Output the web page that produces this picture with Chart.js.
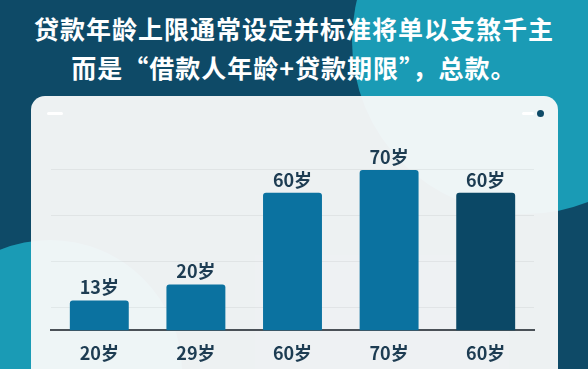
<!DOCTYPE html>
<html>
<head>
<meta charset="utf-8">
<script src="https://cdn.jsdelivr.net/npm/chart.js@4.4.0/dist/chart.umd.min.js"></script>
<style>
  html, body { margin: 0; padding: 0; }
  body {
    width: 588px; height: 369px; overflow: hidden; position: relative;
    background: #0e4a67;
    font-family: "Noto Sans CJK SC", "Noto Sans", sans-serif;
  }
  .circle { position: absolute; border-radius: 50%; background: #1a9bb5; }
  #circleTop { left: 352px; top: -132px; width: 346px; height: 346px; }
  #circleBottom { left: -82px; top: 240px; width: 264px; height: 264px; }
  .title {
    position: absolute; left: 0; width: 588px; text-align: center;
    color: #ffffff; font-size: 25px; font-weight: 700; letter-spacing: 1px;
    line-height: 30px; white-space: nowrap;
  }
  #title1 { top: 13px; }
  #title2 { top: 52px; }
  #card {
    position: absolute; left: 31px; top: 96px; width: 527px; height: 320px;
    border-radius: 14px; background: rgba(250, 250, 250, 0.95);
  }
  .dash { position: absolute; height: 3px; border-radius: 2px; background: #ffffff; }
  #dashLeft { left: 47px; top: 112px; width: 16px; }
  #dashRight { left: 522px; top: 112px; width: 12px; }
  #dot { position: absolute; left: 537px; top: 110px; width: 7px; height: 7px; border-radius: 50%; background: #0e4a67; }
  #chartBox { position: absolute; left: 0; top: 13px; width: 588px; height: 369px; }
</style>
</head>
<body>
<div class="circle" id="circleTop"></div>
<div class="circle" id="circleBottom"></div>
<div class="title" id="title1">贷款年龄上限通常设定并标准将单以支煞千主</div>
<div class="title" id="title2">而是“借款人年龄+贷款期限”，总款。</div>
<div id="card"></div>
<div class="dash" id="dashLeft"></div>
<div class="dash" id="dashRight"></div>
<div id="dot"></div>
<div id="chartBox"><canvas id="ageChart" width="588" height="369"></canvas></div>

<script>
  // Age limit data
  const categories = ['20岁', '29岁', '60岁', '70岁', '60岁'];
  const ageValues = [13, 20, 60, 70, 60];
  const gridTicks = [10, 30, 50, 70];
  const barColors = ['#0b72a0', '#0b72a0', '#0b72a0', '#0b72a0', '#0b4866'];

  const labelFont = '"Noto Sans CJK SC", "Noto Sans", sans-serif';

  // Value labels above each bar
  const valueLabels = {
    id: 'valueLabels',
    afterDatasetsDraw(chart) {
      const ctx = chart.ctx;
      const meta = chart.getDatasetMeta(0);
      ctx.save();
      ctx.font = 'bold 18px ' + labelFont;
      ctx.fillStyle = '#1d3c52';
      ctx.textAlign = 'center';
      ctx.textBaseline = 'bottom';
      meta.data.forEach((bar, i) => {
        ctx.fillText(ageValues[i] + '岁', bar.x, bar.y - 4);
      });
      ctx.restore();
    }
  };

  const ctx = document.getElementById('ageChart').getContext('2d');
  new Chart(ctx, {
    type: 'bar',
    data: {
      labels: categories,
      datasets: [{
        data: ageValues,
        backgroundColor: barColors,
        borderRadius: { topLeft: 3, topRight: 3 },
        borderSkipped: 'start',
        categoryPercentage: 1,
        barPercentage: 0.61
      }]
    },
    options: {
      responsive: false,
      animation: false,
      layout: { padding: { left: 51, right: 54, top: 134, bottom: 6 } },
      plugins: {
        legend: { display: false },
        tooltip: { enabled: false }
      },
      scales: {
        x: {
          grid: { display: false, drawTicks: false },
          border: { display: true, color: '#4a5157', width: 2 },
          ticks: {
            padding: 12,
            color: '#1d3c52',
            font: { family: labelFont, size: 18, weight: 'bold' }
          }
        },
        y: {
          min: 0,
          max: 80,
          afterBuildTicks: axis => {
            axis.ticks = gridTicks.map(v => ({ value: v }));
          },
          grid: { color: 'rgba(0, 0, 0, 0.05)', drawTicks: false },
          border: { display: false },
          ticks: { display: false }
        }
      }
    },
    plugins: [valueLabels]
  });
</script>
</body>
</html>
